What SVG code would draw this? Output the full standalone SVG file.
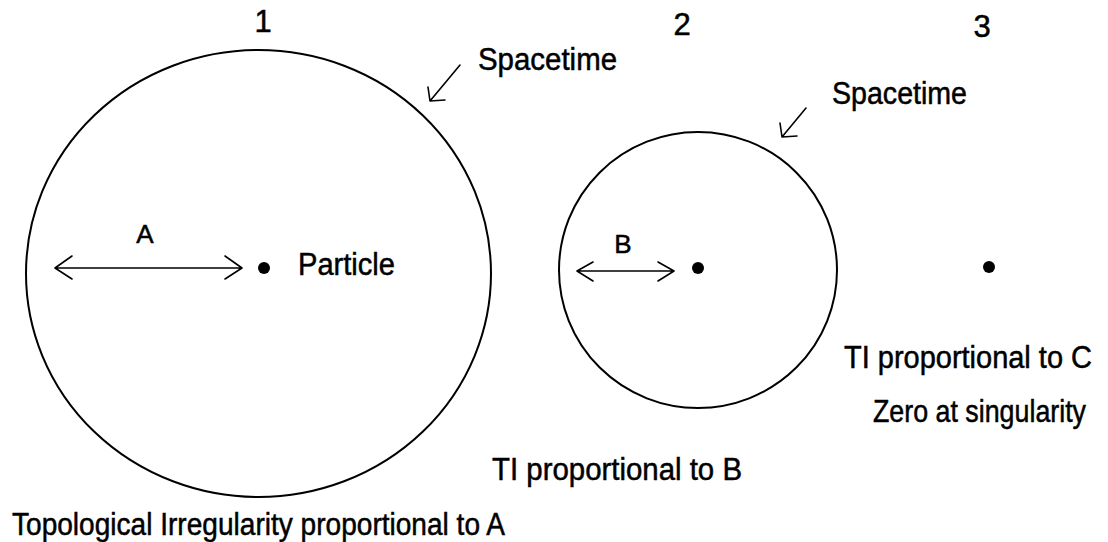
<svg xmlns="http://www.w3.org/2000/svg" width="1108" height="542" viewBox="0 0 1108 542">
<style>
.bg{fill:#fff}
.ring{fill:none;stroke:#000;stroke-width:2}
.ln{fill:none;stroke:#000;stroke-width:1.6;stroke-linecap:round;stroke-linejoin:round}
.dot{fill:#000}
text{font-family:"Liberation Sans",Arial,sans-serif;font-size:31px;fill:#000;stroke:#000;stroke-width:0.5}
.sm{font-size:26px}
</style>
<rect class="bg" width="1108" height="542"/>
<g id="node-1">
<ellipse class="ring" cx="258.5" cy="273.5" rx="232.5" ry="223.5"/>
<text x="263" y="32" text-anchor="middle">1</text>
<circle class="dot" cx="264" cy="268" r="6"/>
<text x="298" y="275" textLength="97" lengthAdjust="spacingAndGlyphs">Particle</text>
<text class="sm" x="145" y="243" text-anchor="middle">A</text>
<text x="12" y="535" textLength="493" lengthAdjust="spacingAndGlyphs">Topological Irregularity proportional to A</text>
<text x="478" y="70" textLength="139" lengthAdjust="spacingAndGlyphs">Spacetime</text>
</g>
<g id="node-2">
<ellipse class="ring" cx="698" cy="270" rx="139" ry="138"/>
<text x="682" y="35" text-anchor="middle">2</text>
<circle class="dot" cx="698" cy="268" r="6"/>
<text class="sm" x="623" y="253" text-anchor="middle">B</text>
<text x="492" y="480" textLength="250" lengthAdjust="spacingAndGlyphs">TI proportional to B</text>
<text x="832" y="104" textLength="135" lengthAdjust="spacingAndGlyphs">Spacetime</text>
</g>
<g id="node-3">
<text x="982" y="37" text-anchor="middle">3</text>
<circle class="dot" cx="989" cy="267" r="6"/>
<text x="844" y="368" textLength="248" lengthAdjust="spacingAndGlyphs">TI proportional to  C</text>
<text transform="translate(873,422) scale(0.865,1)" x="0" y="0">Zero at singularity</text>
</g>
<g id="connectors">
<path class="ln" d="M55,268 H242 M72,256 L55,268 L72,279 M225,256 L242,268 L225,279"/>
<path class="ln" d="M577,271 H674 M593,262 L577,271 L593,281 M658,262 L674,271 L658,281"/>
<path class="ln" d="M460,65 L430,101 M428,87 L430,101 L445,100"/>
<path class="ln" d="M806,108 L782,137 M780,123 L782,137 L797,136"/>
</g>
</svg>
